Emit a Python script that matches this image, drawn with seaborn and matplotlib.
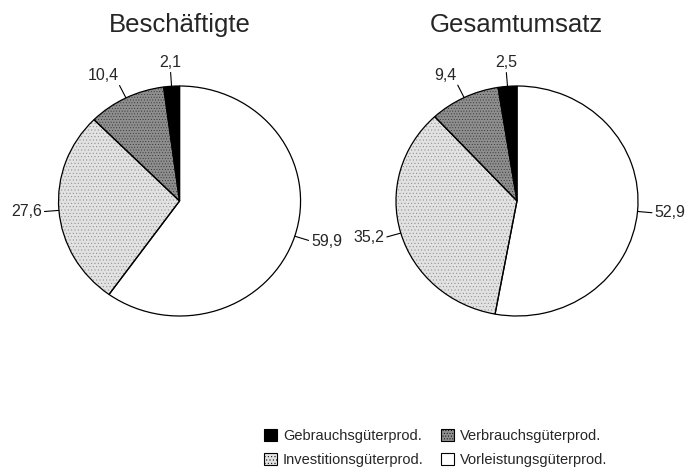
import numpy as np
import seaborn as sns
import matplotlib
matplotlib.use('Agg')
import matplotlib.pyplot as plt

# data (percent shares)
categories = ['Gebrauchsgüterprod.', 'Verbrauchsgüterprod.',
              'Investitionsgüterprod.', 'Vorleistungsgüterprod.']
beschaeftigte = [2.1, 10.4, 27.6, 59.9]
gesamtumsatz = [2.5, 9.4, 35.2, 52.9]
titles = ['Beschäftigte', 'Gesamtumsatz']

sns.set_style('white')
plt.rcParams['font.family'] = ['Liberation Sans', 'DejaVu Sans']
plt.rcParams['hatch.linewidth'] = 0.35

face_colors = ['#000000', '#8e8e8e', '#e2e2e2', '#ffffff']
hatches = [None, '......', '.....', None]
hatch_colors = ['black', '#333333', '#8a8a8a', 'black']

fig = plt.figure(figsize=(6.87, 4.72), dpi=100)

# axes boxes match the (slightly oval) pies in the reference
ax_boxes = [[0.0852, 0.3305, 0.3523, 0.4873],
            [0.5764, 0.3305, 0.3523, 0.4873]]
title_x = [179.5 / 687, 516 / 687]


def fmt(v):
    return f'{v:.1f}'.replace('.', ',')


wedges_ref = None
for box, values, title, tx in zip(ax_boxes, [beschaeftigte, gesamtumsatz], titles, title_x):
    ax = fig.add_axes(box)
    # textured fill (hatch colour comes from the edge colour)
    wedges, _ = ax.pie(values, startangle=90, counterclock=True,
                       colors=face_colors, wedgeprops=dict(linewidth=0))
    for w, h, hc in zip(wedges, hatches, hatch_colors):
        w.set_edgecolor(hc)
        if h:
            w.set_hatch(h)
    # black outlines on top
    ax.pie(values, startangle=90, counterclock=True,
           colors=['none'] * len(values),
           wedgeprops=dict(edgecolor='black', linewidth=0.9))
    ax.set_aspect('auto')
    ax.set_xlim(-1, 1)
    ax.set_ylim(-1, 1)
    ax.axis('off')

    # value labels with short leader lines
    for w, v in zip(wedges, values):
        ang = np.deg2rad((w.theta1 + w.theta2) / 2)
        c, s = np.cos(ang), np.sin(ang)
        ax.plot([c, 1.12 * c], [s, 1.12 * s], color='black', lw=0.8, clip_on=False)
        ha = 'left' if c > 0.3 else ('right' if c < -0.3 else 'center')
        va = 'bottom' if s > 0.5 else ('top' if s < -0.5 else 'center')
        ax.text(1.14 * c, 1.14 * s, fmt(v), ha=ha, va=va, fontsize=11.5,
                clip_on=False)

    fig.text(tx, 1 - 25 / 472, title, ha='center', va='center', fontsize=18.5)
    if wedges_ref is None:
        wedges_ref = wedges

# legend: two rows, column-first ordering
order = [0, 2, 1, 3]
leg = fig.legend([wedges_ref[i] for i in order], [categories[i] for i in order],
                 ncol=2, loc='upper left', bbox_to_anchor=(264 / 687, 1 - 429 / 472),
                 frameon=False, fontsize=10.5, handlelength=0.9, handleheight=0.9,
                 handletextpad=0.4, columnspacing=1.2, labelspacing=0.7,
                 borderaxespad=0, borderpad=0)
for h in leg.legend_handles:
    h.set_edgecolor('black')
    h.set_linewidth(0.8)

fig.savefig('out.png', dpi=100)
